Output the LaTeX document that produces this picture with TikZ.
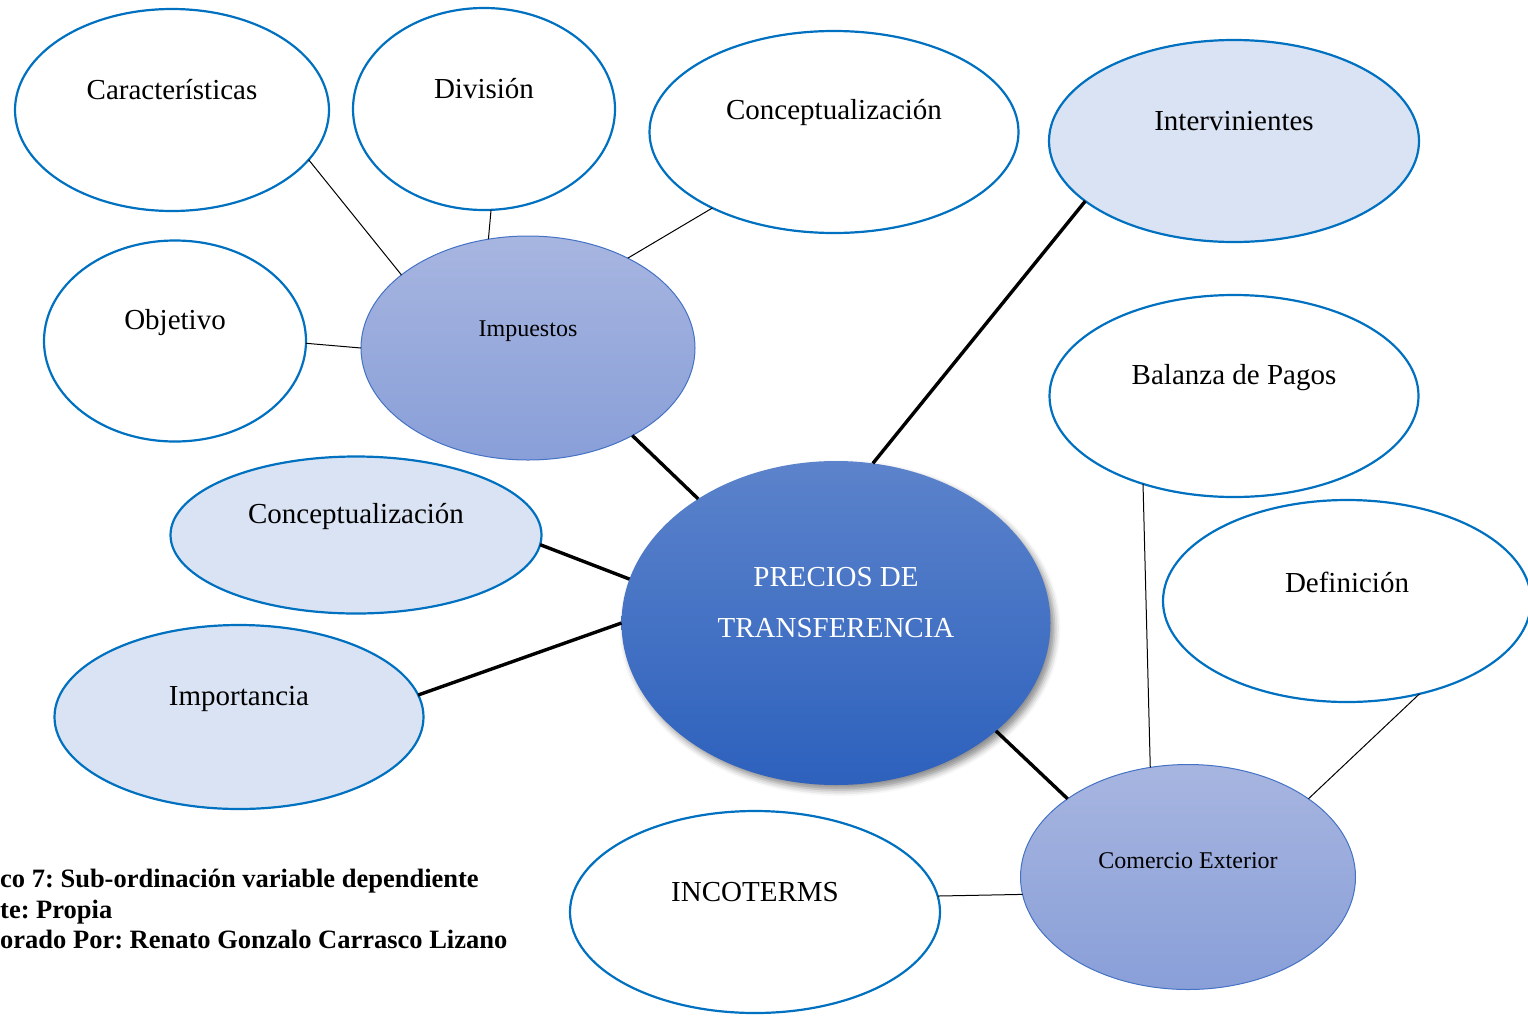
\documentclass[tikz,border=0pt]{standalone}
\usepackage{fontspec}
\setmainfont{Liberation Serif}
\usetikzlibrary{shapes.geometric,shadows.blur}
\definecolor{ringblue}{HTML}{0070C0}
\definecolor{paleblue}{HTML}{DAE3F3}
\definecolor{topicline}{HTML}{4472C4}
\definecolor{topictop}{HTML}{A7B5E0}
\definecolor{topicbot}{HTML}{899FD8}
\definecolor{coretop}{HTML}{5C83CB}
\definecolor{corebot}{HTML}{2D61BD}
\frenchspacing
\begin{document}
\begin{tikzpicture}[x=1pt,y=-1pt,
  bubble/.style={ellipse, draw=ringblue, line width=2.2pt, fill=white, inner sep=0pt, outer sep=0pt},
  pale/.style={bubble, fill=paleblue},
  topic/.style={ellipse, draw=topicline, line width=1pt, top color=topictop, bottom color=topicbot, inner sep=0pt, outer sep=0pt},
  core/.style={ellipse, draw=none, top color=coretop, bottom color=corebot, inner sep=0pt, outer sep=0pt,
    blur shadow={shadow xshift=4pt, shadow yshift=-5pt, shadow blur radius=6pt, shadow opacity=45}},
  big/.style={font=\fontsize{29}{34}\selectfont},
  small/.style={font=\fontsize{24}{28}\selectfont},
  thin link/.style={line width=1pt, black},
  thick link/.style={line width=3.4pt, black},
  note/.style={font=\bfseries\fontsize{26.5}{30.5}\selectfont, anchor=north west, align=left, inner sep=0pt}
]
\useasboundingbox (0,0) rectangle (1528,1018);

% outer bubbles
\node[bubble, minimum width=314pt, minimum height=202pt,
  label={[big, yshift=20pt]center:Características}] (car) at (172,110) {};
\node[bubble, minimum width=262pt, minimum height=202pt,
  label={[big, yshift=20pt]center:División}] (div) at (484,109) {};
\node[bubble, minimum width=369pt, minimum height=202pt,
  label={[big, yshift=19pt]center:Conceptualización}] (cona) at (834,132) {};
\node[pale, minimum width=370pt, minimum height=202pt,
  label={[big, yshift=20pt]center:Intervinientes}] (int) at (1234,141) {};
\node[bubble, minimum width=262pt, minimum height=201pt,
  label={[big, yshift=18pt]center:Objetivo}] (obj) at (175,341) {};
\node[pale, minimum width=371pt, minimum height=157pt,
  label={[big, yshift=19pt]center:Conceptualización}] (conb) at (356,535) {};
\node[pale, minimum width=369pt, minimum height=184pt,
  label={[big, yshift=18pt]center:Importancia}] (imp) at (239,717) {};
\node[bubble, minimum width=369pt, minimum height=202pt,
  label={[big, yshift=18pt]center:Balanza de Pagos}] (bal) at (1234,396) {};
\node[bubble, minimum width=368pt, minimum height=202pt,
  label={[big, yshift=19pt]center:Definición}] (def) at (1347,601) {};
\node[bubble, minimum width=370pt, minimum height=202pt,
  label={[big, yshift=20pt]center:INCOTERMS}] (inc) at (755,912) {};

% intermediate topics
\node[topic, minimum width=334pt, minimum height=224pt,
  label={[small, yshift=17pt]center:Impuestos}] (tax) at (528,348) {};
\node[topic, minimum width=335pt, minimum height=225pt,
  label={[small, yshift=16pt]center:Comercio Exterior}] (trade) at (1188,877) {};

% central concept
\node[core, minimum width=429pt, minimum height=324pt,
  label={[big, white, align=center, font=\fontsize{29}{51}\selectfont, yshift=20pt]center:PRECIOS DE\\TRANSFERENCIA}] (core) at (836,623) {};

% connectors
\draw[thin link] (car.-20) -- (tax.150);
\draw[thin link] (div.-86) -- (tax.110);
\draw[thin link] (cona.-148.8) -- (tax.42);
\draw[thin link] (obj.-1) -- (tax.180);
\draw[thick link] (tax.-40) -- (core.138.3);
\draw[thick link] (core.77.9) -- (int.-158);
\draw[thick link] (conb.-3) -- (core.168.6);
\draw[thick link] (imp.7) -- (core.180);
\draw[thick link] (core.-34.4) -- (trade.147.6);
\draw[thin link] (bal.-136) -- (trade.109.2);
\draw[thin link] (def.-52.2) -- (trade.33.8);
\draw[thin link] (inc.5.3) -- (trade.186);

% caption
\node[note] (cap) at (0,869) {co 7: Sub-ordinación variable dependiente\\te: Propia\\orado Por: Renato Gonzalo Carrasco Lizano};
\end{tikzpicture}
\end{document}
